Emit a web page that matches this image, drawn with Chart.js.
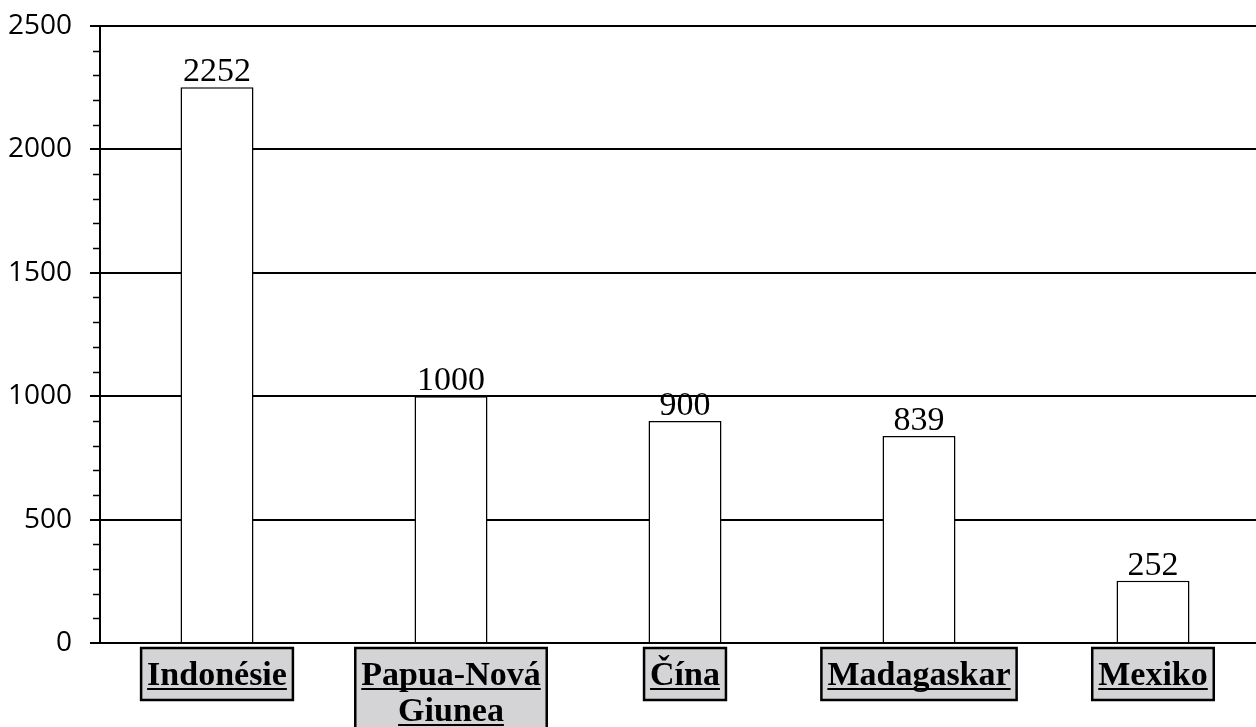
<!DOCTYPE html>
<html>
<head>
<meta charset="utf-8">
<script src="https://cdn.jsdelivr.net/npm/chart.js@4"></script>
<style>
    html, body { margin: 0; padding: 0; background: #fff; overflow: hidden; }
    #wrap { width: 1275px; height: 727px; }
</style>
</head>
<body>
<div id="wrap"><canvas id="chart" width="1275" height="727"></canvas></div>
<script>
// Data
const categories = [['Indonésie'], ['Papua-Nová', 'Giunea'], ['Čína'], ['Madagaskar'], ['Mexiko']];
const values = [2252, 1000, 900, 839, 252];
const yMin = 0;
const yMax = 2500;
const yStep = 500;
const yMinorStep = 100;

const LABEL_FONT = 'bold 34px "Liberation Serif", serif';
const VALUE_FONT = '34px "Liberation Serif", serif';

// Minor ticks on y axis
const minorTicks = {
    id: 'minorTicks',
    afterDraw(chart) {
        const ctx = chart.ctx;
        const y = chart.scales.y;
        ctx.save();
        ctx.strokeStyle = '#000';
        ctx.lineWidth = 1.5;
        for (let v = yMin; v <= yMax; v += yMinorStep) {
            if (v % yStep === 0) continue;
            const py = Math.round(y.getPixelForValue(v)) + 0.5;
            ctx.beginPath();
            ctx.moveTo(y.right - 7, py);
            ctx.lineTo(y.right, py);
            ctx.stroke();
        }
        ctx.restore();
    }
};

// Value labels above the bars
const valueLabels = {
    id: 'valueLabels',
    afterDatasetsDraw(chart) {
        const ctx = chart.ctx;
        const meta = chart.getDatasetMeta(0);
        ctx.save();
        ctx.font = VALUE_FONT;
        ctx.fillStyle = '#000';
        ctx.textAlign = 'center';
        ctx.textBaseline = 'alphabetic';
        meta.data.forEach((bar, i) => {
            ctx.fillText(String(values[i]), bar.x, bar.y - 6);
        });
        ctx.restore();
    }
};

// Category labels in grey boxes
const boxedLabels = {
    id: 'boxedLabels',
    afterDraw(chart) {
        const ctx = chart.ctx;
        const x = chart.scales.x;
        const base = chart.chartArea.bottom;
        const lineH = 36;
        ctx.save();
        ctx.font = LABEL_FONT;
        ctx.textAlign = 'center';
        ctx.textBaseline = 'alphabetic';
        categories.forEach((lines, i) => {
            const cx = x.getPixelForTick(i);
            const w = Math.max(...lines.map(l => ctx.measureText(l).width));
            const top = base + 5;
            const firstBase = base + 42;
            const bottom = firstBase + (lines.length - 1) * lineH + 15;
            ctx.fillStyle = '#d4d4d6';
            ctx.fillRect(cx - w / 2 - 6, top, w + 12, bottom - top);
            ctx.strokeStyle = '#000';
            ctx.lineWidth = 2.5;
            ctx.strokeRect(cx - w / 2 - 6, top, w + 12, bottom - top);
            ctx.fillStyle = '#000';
            lines.forEach((l, j) => {
                const by = firstBase + j * lineH;
                ctx.fillText(l, cx, by);
                const lw = ctx.measureText(l).width;
                ctx.fillRect(cx - lw / 2, by + 3, lw, 2);
            });
        });
        ctx.restore();
    }
};

new Chart(document.getElementById('chart'), {
    type: 'bar',
    data: {
        labels: categories,
        datasets: [{
            data: values,
            backgroundColor: '#fff',
            borderColor: '#000',
            borderWidth: 1.5,
            categoryPercentage: 1,
            barPercentage: 0.312
        }]
    },
    options: {
        responsive: false,
        animation: false,
        layout: { padding: { top: 26, right: 5, bottom: 76, left: 0 } },
        plugins: {
            legend: { display: false },
            tooltip: { enabled: false }
        },
        scales: {
            x: {
                ticks: { display: false },
                grid: { display: false },
                border: { display: true, color: '#000', width: 2 }
            },
            y: {
                min: yMin,
                max: yMax,
                afterFit(scale) {
                    scale.width = 100;
                    scale.paddingTop = 0;
                    scale.paddingBottom = 0;
                },
                ticks: {
                    stepSize: yStep,
                    color: '#000',
                    padding: 18,
                    font: { family: '"Open Sans", sans-serif', size: 28 },
                    callback: v => String(v)
                },
                grid: {
                    color: '#000',
                    lineWidth: 2,
                    tickLength: 10,
                    tickColor: '#000'
                },
                border: { display: true, color: '#000', width: 2 }
            }
        }
    },
    plugins: [minorTicks, valueLabels, boxedLabels]
});
</script>
</body>
</html>
